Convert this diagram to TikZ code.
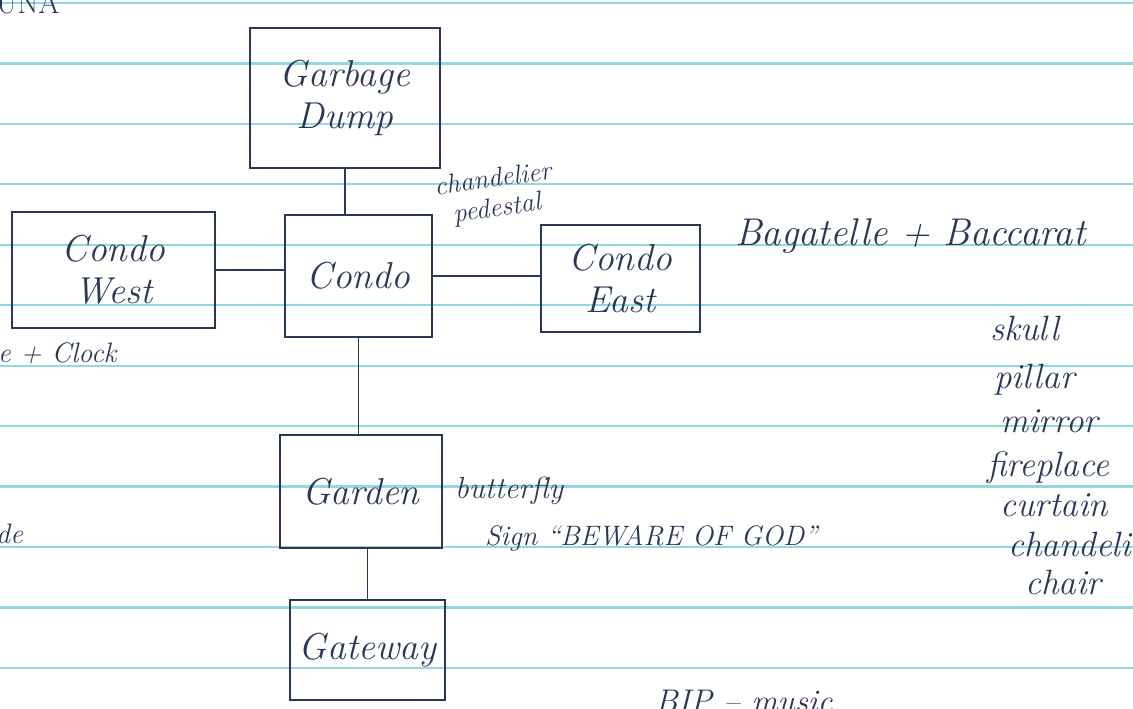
\documentclass[tikz,border=0pt]{standalone}
\usepackage{fontspec}
\begin{document}
\definecolor{ink}{RGB}{42,56,88}
\definecolor{rulecol}{RGB}{150,214,224}
\begin{tikzpicture}[x=0.03cm,y=-0.03cm,
  box/.style={draw=ink, line width=1.4pt, align=center, text=ink, inner sep=0pt,
              font=\fontsize{32}{36}\selectfont\itshape},
  link/.style={draw=ink, line width=1.4pt},
  note/.style={text=ink, inner sep=0pt, align=center},
  lbl/.style={text=ink, inner sep=0pt, anchor=base west},
  ruled/.style={draw=rulecol, line width=1.9pt}]
\useasboundingbox (0,0) rectangle (1133,708);
\clip (0,0) rectangle (1133,708);
\fill[white] (0,0) rectangle (1133,708);
% ruled paper
\foreach \k in {0,...,11}{
  \draw[ruled] (0,{3+60.45*\k}) -- (1133,{3+60.45*\k});
}
% boxes
\node[box, minimum width=5.7cm, minimum height=4.2cm] (gd) at (345,98) {Garbage\\Dump};
\node[box, minimum width=4.41cm, minimum height=3.66cm] (condo) at (358.5,276) {Condo};
\node[box, minimum width=6.09cm, minimum height=3.48cm] (west) at (113.5,270) {Condo\\West};
\node[box, minimum width=4.77cm, minimum height=3.21cm] (east) at (620.5,278.5) {Condo\\East};
\node[box, minimum width=4.86cm, minimum height=3.39cm] (garden) at (361,491.5) {Garden};
\node[box, minimum width=4.65cm, minimum height=3.0cm] (gate) at (367.5,650) {Gateway};
% connectors
\draw[link] (gd.south) -- (gd.south |- condo.north);
\draw[link] (west.east) -- (west.east -| condo.west);
\draw[link] (condo.east) -- (condo.east -| east.west);
\draw[link] (condo.south) -- (condo.south |- garden.north);
\draw[link] (gate.north |- garden.south) -- (gate.north);
% annotations
\node[note, rotate=8, font=\fontsize{23}{25}\selectfont\itshape] (chand) at (495,195) {chandelier\\pedestal};
\node[lbl, font=\fontsize{33}{36}\selectfont\itshape] (bag) at (735,245) {Bagatelle + Baccarat};
\node[lbl, font=\fontsize{24}{28}\selectfont\itshape] (clock) at (-2,362) {e + Clock};
\node[lbl, font=\fontsize{24}{28}\selectfont\itshape] (de) at (-4,543) {de};
\node[lbl, font=\fontsize{26}{30}\selectfont] (una) at (-4,14) {UNA};
\node[lbl, font=\fontsize{26}{30}\selectfont\itshape] (bfly) at (455,498) {butterfly};
\node[lbl, font=\fontsize{24}{28}\selectfont\itshape] (sign) at (485,545) {Sign ``BEWARE OF GOD''};
\node[lbl, font=\fontsize{30}{34}\selectfont\itshape] (skull) at (990,340) {skull};
\node[lbl, font=\fontsize{30}{34}\selectfont\itshape] (pillar) at (994,388) {pillar};
\node[lbl, font=\fontsize{30}{34}\selectfont\itshape] (mirror) at (1000,432) {mirror};
\node[lbl, font=\fontsize{30}{34}\selectfont\itshape] (fire) at (987,476) {fireplace};
\node[lbl, font=\fontsize{30}{34}\selectfont\itshape] (curtain) at (1000,516) {curtain};
\node[lbl, font=\fontsize{30}{34}\selectfont\itshape] (chande) at (1008,556) {chandelier};
\node[lbl, font=\fontsize{30}{34}\selectfont\itshape] (chair) at (1025,594) {chair};
\node[lbl, font=\fontsize{28}{32}\selectfont\itshape] (bip) at (655,712) {BIP -- music};
\end{tikzpicture}
\end{document}
